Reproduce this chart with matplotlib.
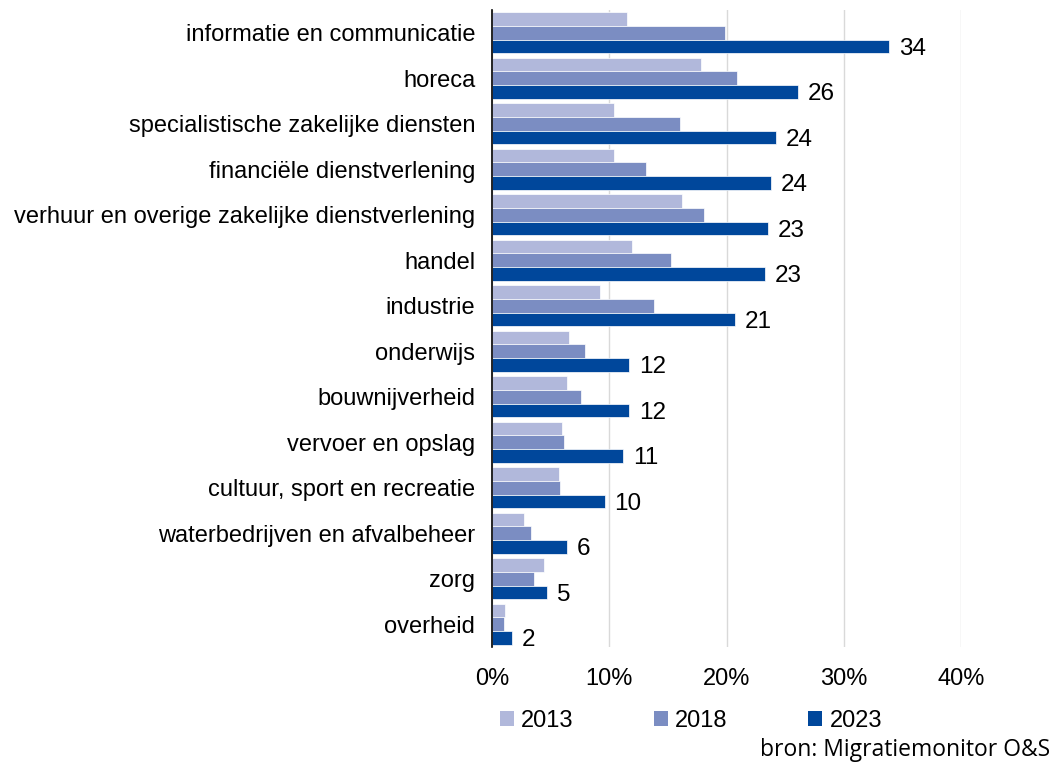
import matplotlib
matplotlib.use("Agg")
import matplotlib.pyplot as plt
import numpy as np
from matplotlib.patches import Patch

# Data (share in %)
categories = ['informatie en communicatie', 'horeca', 'specialistische zakelijke diensten',
              'financiële dienstverlening', 'verhuur en overige zakelijke dienstverlening',
              'handel', 'industrie', 'onderwijs', 'bouwnijverheid', 'vervoer en opslag',
              'cultuur, sport en recreatie', 'waterbedrijven en afvalbeheer', 'zorg', 'overheid']
v2013 = [11.5, 17.8, 10.4, 10.4, 16.2, 11.9, 9.2, 6.6, 6.4, 6.0, 5.7, 2.7, 4.4, 1.1]
v2018 = [19.9, 20.9, 16.0, 13.1, 18.1, 15.3, 13.8, 7.9, 7.6, 6.1, 5.8, 3.3, 3.6, 1.0]
v2023 = [33.9, 26.1, 24.2, 23.8, 23.5, 23.3, 20.7, 11.7, 11.7, 11.2, 9.6, 6.4, 4.7, 1.7]
labels2023 = [34, 26, 24, 24, 23, 23, 21, 12, 12, 11, 10, 6, 5, 2]
years = ['2013', '2018', '2023']
colors = ['#B1B8DB', '#7B8DC2', '#00479B']

plt.rcParams['font.family'] = ['Liberation Sans', 'DejaVu Sans']

fig = plt.figure(figsize=(10.59, 7.65), dpi=100)
ax = fig.add_axes([492/1059, 1 - 647/765, (961 - 492)/1059, (647 - 10)/765])

y = np.arange(len(categories))
h = 0.297
for i, (vals, col) in enumerate(zip([v2013, v2018, v2023], colors)):
    ax.barh(y + (i - 1) * h, vals, height=h, color=col, edgecolor='white', linewidth=0.5, zorder=3)

for yi, val, lab in zip(y, v2023, labels2023):
    ax.text(val + 0.85, yi + h + 0.06, str(lab), va='center', ha='left', fontsize=17.5, color='black')

ax.set_ylim(len(categories) - 0.5, -0.5)
ax.set_xlim(0, 40)
ax.set_yticks(y)
ax.set_yticklabels(categories, fontsize=17)
ax.set_xticks([0, 10, 20, 30, 40])
ax.set_xticklabels(['0%', '10%', '20%', '30%', '40%'], fontsize=17)
ax.tick_params(axis='both', length=0)
ax.tick_params(axis='y', pad=12)
ax.tick_params(axis='x', pad=15)
ax.grid(axis='x', color='#D9D9D9', linewidth=1, zorder=0)
for s in ['top', 'right', 'bottom']:
    ax.spines[s].set_visible(False)
ax.spines['left'].set_color('black')
ax.spines['left'].set_linewidth(1.2)
ax.spines['left'].set_zorder(4)

handles = [Patch(facecolor=c, edgecolor='none') for c in colors]
fig.legend(handles, years, loc='center', bbox_to_anchor=(691/1059, 1 - 721/765), ncol=3,
           frameon=False, fontsize=17, handlelength=0.6, handleheight=0.6,
           handletextpad=0.3, columnspacing=3.4)

fig.text(1050/1059, 1 - 750/765, 'bron: Migratiemonitor O&S', ha='right', va='center',
         fontsize=16.5, family=['Open Sans', 'DejaVu Sans'], color='black')

fig.savefig('out.png', dpi=100)
